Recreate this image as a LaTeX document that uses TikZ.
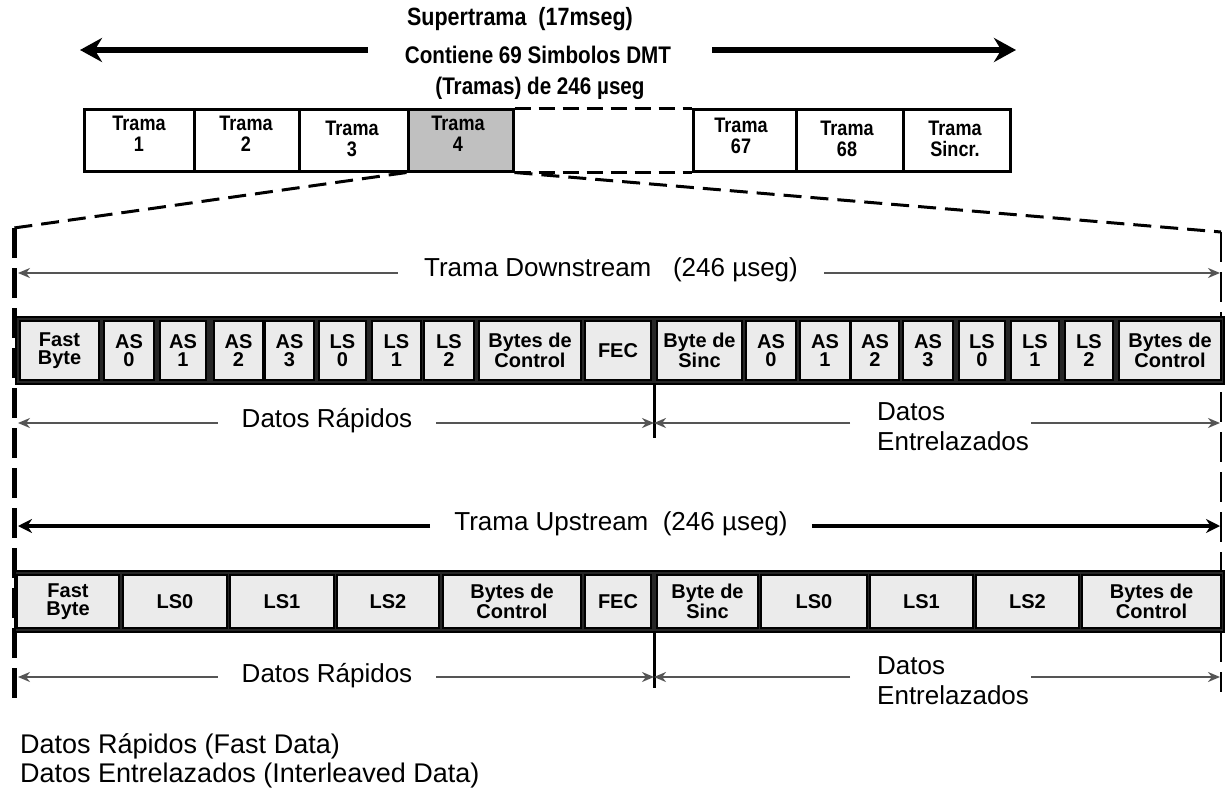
\documentclass[tikz,border=0pt]{standalone}
\usepackage{fontspec}
\setmainfont{Liberation Sans}
\newfontfamily\condfont{Liberation Sans}[FakeStretch=0.86]
\usetikzlibrary{arrows.meta}
\definecolor{cellgray}{HTML}{EBEBEB}
\definecolor{darkgray4}{HTML}{C0C0C0}
\definecolor{linegray}{HTML}{555555}
\newcommand{\mycell}[7]{\node[#1, minimum width={#4-#3}, minimum height={#6-#5}] (#2) at ({(#3+#4)/2},{(#5+#6)/2}) {#7};}
\begin{document}
\begin{tikzpicture}[x=1pt,y=-1pt,
  topcell/.style={draw=black, line width=3pt, fill=white, inner sep=0pt, align=center},
  cell/.style={draw=black, line width=1.2pt, fill=cellgray, inner sep=0pt, align=center, font=\bfseries\fontsize{20}{18}\selectfont},
  rowbg/.style={draw=black, line width=2pt, fill=black!85, inner sep=0pt},
  lbl/.style={font=\fontsize{26}{30}\selectfont, inner sep=0pt},
  toplbl/.style={font=\condfont\bfseries\fontsize{24}{26}\selectfont, inner sep=0pt},
  celltxt/.style={anchor=north, align=center, inner sep=0pt, font=\condfont\bfseries\fontsize{21}{21}\selectfont},
  thinarrow/.style={draw=linegray, line width=2pt, -{Stealth[length=12pt,width=10pt]}},
  thickarrow/.style={draw=black, line width=4.5pt, -{Stealth[length=14pt,width=14pt]}},
  bigarrow/.style={draw=black, line width=6pt, -{Stealth[length=22pt,width=24pt]}},
  bound/.style={draw=black, line width=5pt, dash pattern=on 30pt off 10pt},
  diag/.style={draw=black, line width=3pt, dash pattern=on 18pt off 9pt},
  divider/.style={draw=black, line width=3pt}
]
\useasboundingbox (0,0) rectangle (1226,797);

% ---------- top labels ----------
\node[toplbl, font=\condfont\bfseries\fontsize{25}{26}\selectfont] (sup) at (520,19) {Supertrama\ \ (17mseg)};
\node[toplbl] (cont) at (538,55) {Contiene 69 Simbolos DMT};
\node[toplbl] (tram) at (540,88) {(Tramas) de 246 µseg};
\coordinate (supL) at (80,50);
\coordinate (supR) at (1016,50);
\draw[bigarrow] (368,50) coordinate (supLs) -- (supL);
\draw[bigarrow] (712,50) coordinate (supRs) -- (supR);

% ---------- top frame row ----------
\mycell{topcell}{t1}{84}{194}{110}{171}{}
\mycell{topcell}{t2}{194}{299}{110}{171}{}
\mycell{topcell}{t3}{299}{408}{110}{171}{}
\mycell{topcell, fill=darkgray4}{t4}{408}{513}{110}{171}{}
\mycell{topcell}{t67}{693}{796}{110}{171}{}
\mycell{topcell}{t68}{796}{903}{110}{171}{}
\mycell{topcell}{tS}{903}{1010}{110}{171}{}
\draw[black, line width=3pt, dash pattern=on 16pt off 8pt] (t4.north east) -- (t67.north west);
\draw[black, line width=3pt, dash pattern=on 16pt off 8pt] (t4.south east) -- (t67.south west);
\node[celltxt] (t1l) at (139,116) {Trama\\1};
\node[celltxt] (t2l) at (246,116) {Trama\\2};
\node[celltxt] (t3l) at (352,121) {Trama\\3};
\node[celltxt] (t4l) at (458,116) {Trama\\4};
\node[celltxt] (t67l) at (741,118) {Trama\\67};
\node[celltxt] (t68l) at (847,121) {Trama\\68};
\node[celltxt] (tSl) at (955,121) {Trama\\Sincr.};

% ---------- expansion lines ----------
\coordinate (cornL) at (14,228);
\coordinate (cornR) at (1221,232);
\coordinate (botL) at (14,700);
\coordinate (botR) at (1221,692);
\draw[diag] (t4.south west) -- (cornL);
\draw[diag] (t4.south east) -- (cornR);
\draw[bound] (cornL) -- (botL);
\draw[draw=black, line width=2.5pt, dash pattern=on 30pt off 10pt] (cornR) -- (botR);

% ---------- downstream ----------
\node[lbl, inner xsep=26pt] (dsl) at (611,270) {Trama Downstream\ \ \ (246 µseg)};
\coordinate (dsA) at (18,273);
\coordinate (dsB) at (1220,273);
\draw[thinarrow] (dsl.west |- dsA) -- (dsA);
\draw[thinarrow] (dsl.east |- dsB) -- (dsB);

\node[rowbg, minimum width=1208, minimum height=67] (drow) at (620,350.5) {};
\mycell{cell}{d1}{20}{99}{321}{380}{Fast\\Byte}
\mycell{cell}{d2}{104}{154}{321}{380}{AS\\0}
\mycell{cell}{d3}{160}{206}{321}{380}{AS\\1}
\mycell{cell}{d4}{214}{263}{321}{380}{AS\\2}
\mycell{cell}{d5}{265}{314}{321}{380}{AS\\3}
\mycell{cell}{d6}{319}{366}{321}{380}{LS\\0}
\mycell{cell}{d7}{372}{421}{321}{380}{LS\\1}
\mycell{cell}{d8}{424}{474}{321}{380}{LS\\2}
\mycell{cell}{d9}{479}{581}{321}{380}{Bytes de\\Control}
\mycell{cell}{d10}{585}{651}{321}{380}{FEC}
\mycell{cell}{d11}{657}{742}{321}{380}{Byte de\\Sinc}
\mycell{cell}{d12}{746}{796}{321}{380}{AS\\0}
\mycell{cell}{d13}{800}{850}{321}{380}{AS\\1}
\mycell{cell}{d14}{851}{899}{321}{380}{AS\\2}
\mycell{cell}{d15}{903}{953}{321}{380}{AS\\3}
\mycell{cell}{d16}{959}{1005}{321}{380}{LS\\0}
\mycell{cell}{d17}{1011}{1059}{321}{380}{LS\\1}
\mycell{cell}{d18}{1065}{1113}{321}{380}{LS\\2}
\mycell{cell}{d19}{1119}{1221}{321}{380}{Bytes de\\Control}

\coordinate (djTop) at (654,384);
\coordinate (djBot) at (654,438);
\coordinate (dj) at (654,423);
\draw[divider] (djTop) -- (djBot);
\node[lbl, inner xsep=24pt] (drap) at (327,421) {Datos Rápidos};
\coordinate (drL) at (18,423);
\draw[thinarrow] (drap.west |- drL) -- (drL);
\draw[thinarrow] (drap.east |- dj) -- (dj);
\node[lbl, anchor=north west, align=left] (dent) at (877,402) {Datos\\Entrelazados};
\coordinate (deL) at (850,423);
\coordinate (deR) at (1031,423);
\coordinate (deEnd) at (1220,423);
\draw[thinarrow] (deL) -- (dj);
\draw[thinarrow] (deR) -- (deEnd);

% ---------- upstream ----------
\node[lbl, inner xsep=24pt] (usl) at (621,524) {Trama Upstream\ \ (246 µseg)};
\coordinate (usA) at (18,526);
\coordinate (usB) at (1220,526);
\draw[thickarrow] (usl.west |- usA) -- (usA);
\draw[thickarrow] (usl.east |- usB) -- (usB);

\node[rowbg, minimum width=1209, minimum height=61] (urow) at (619,601.5) {};
\mycell{cell}{u1}{17}{119}{575}{628}{Fast\\Byte}
\mycell{cell}{u2}{123}{227}{575}{628}{LS0}
\mycell{cell}{u3}{230}{334}{575}{628}{LS1}
\mycell{cell}{u4}{337}{439}{575}{628}{LS2}
\mycell{cell}{u5}{443}{581}{575}{628}{Bytes de\\Control}
\mycell{cell}{u6}{585}{651}{575}{628}{FEC}
\mycell{cell}{u7}{657}{758}{575}{628}{Byte de\\Sinc}
\mycell{cell}{u8}{761}{867}{575}{628}{LS0}
\mycell{cell}{u9}{870}{973}{575}{628}{LS1}
\mycell{cell}{u10}{976}{1079}{575}{628}{LS2}
\mycell{cell}{u11}{1082}{1221}{575}{628}{Bytes de\\Control}

\coordinate (ujTop) at (654,632);
\coordinate (ujBot) at (654,688);
\coordinate (uj) at (654,677);
\draw[divider] (ujTop) -- (ujBot);
\node[lbl, inner xsep=24pt] (urap) at (327,676) {Datos Rápidos};
\coordinate (urL) at (18,677);
\draw[thinarrow] (urap.west |- urL) -- (urL);
\draw[thinarrow] (urap.east |- uj) -- (uj);
\node[lbl, anchor=north west, align=left] (uent) at (877,656) {Datos\\Entrelazados};
\coordinate (ueL) at (850,677);
\coordinate (ueR) at (1031,677);
\coordinate (ueEnd) at (1220,677);
\draw[thinarrow] (ueL) -- (uj);
\draw[thinarrow] (ueR) -- (ueEnd);

% ---------- legend ----------
\node[lbl, anchor=west, font=\fontsize{27}{30}\selectfont] (leg1) at (20,746) {Datos Rápidos (Fast Data)};
\node[lbl, anchor=west, font=\fontsize{27}{30}\selectfont] (leg2) at (20,776) {Datos Entrelazados (Interleaved Data)};
\end{tikzpicture}
\end{document}
